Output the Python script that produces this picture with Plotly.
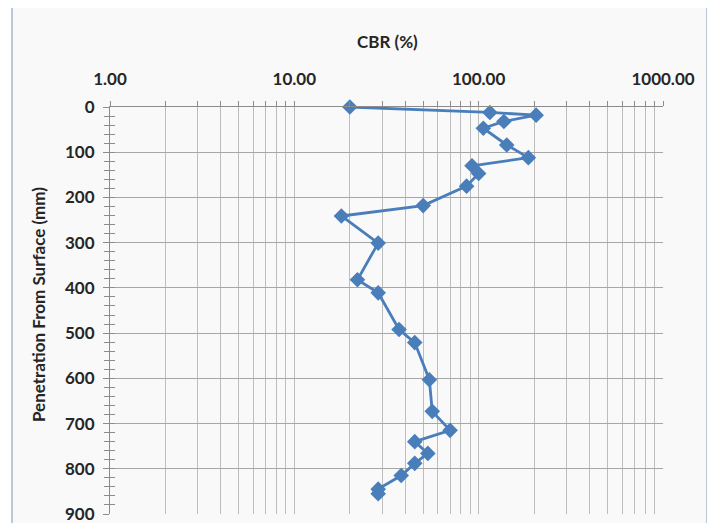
import plotly.graph_objects as go

# Data
cbr = [20, 115, 205, 137, 106, 142, 186, 92, 100, 86, 50, 18, 28.5, 22, 28.5,
       37, 45, 54, 56, 70, 45, 53, 45, 38, 28.5, 28.5]
depth = [0, 12, 18, 32, 47, 84, 112, 130, 147, 175, 218, 241, 301, 382, 411,
         492, 521, 603, 673, 715, 740, 766, 788, 815, 845, 855]

x_major = [1, 10, 100, 1000]
x_major_labels = ["1.00", "10.00", "100.00", "1000.00"]
y_ticks = [0, 100, 200, 300, 400, 500, 600, 700, 800, 900]
x_title = "CBR (%)"
y_title = "Penetration From Surface (mm)"

FONT = "Lato, 'Open Sans', sans-serif"
TXT = "#262626"
GRID = "#bdbdbd"
FS = 17

# tick positions: decades plus 2..9 inside each decade
x_tickvals = []
x_ticktext = []
for d in range(3):
    base = x_major[d]
    for m in range(1, 10):
        x_tickvals.append(base * m)
        x_ticktext.append(x_major_labels[d] if m == 1 else "")
x_tickvals.append(x_major[3])
x_ticktext.append(x_major_labels[3])

fig = go.Figure()
fig.add_trace(go.Scatter(
    x=cbr, y=depth, mode="lines+markers", cliponaxis=False,
    line=dict(color="#4A7EBB", width=2.8),
    marker=dict(symbol="diamond", size=12, color="#4A7EBB"),
    showlegend=False,
))
fig.add_trace(go.Scatter(x=[1], y=[0], yaxis="y2", mode="markers",
                         marker=dict(opacity=0), showlegend=False, hoverinfo="skip"))

# page has an 8px body margin: work in viewport pixels and shift
OFF = 8
W, H = 715, 523
PX0, PX1, PY0, PY1 = 110, 663, 107, 514   # plot area in viewport pixels
L, T = PX0 - OFF, PY0 - OFF
R = W - (PX1 - OFF)
B = H - (PY1 - OFF)
pw, ph = PX1 - PX0, PY1 - PY0

def px2paper_x(px):
    return (px - PX0) / pw

def py2paper_y(py):
    return (PY1 - py) / ph

fig.add_shape(type="rect", xref="paper", yref="paper", layer="below",
              x0=px2paper_x(12), x1=px2paper_x(707),
              y0=py2paper_y(540), y1=py2paper_y(7),
              line=dict(color="#A7B9CC", width=1.5), fillcolor="#F9F9F9")

fig.add_annotation(text="<b>" + x_title + "</b>", xref="paper", yref="paper",
                   x=px2paper_x(387), y=py2paper_y(42), showarrow=False,
                   xanchor="center", yanchor="middle",
                   font=dict(size=FS, family=FONT, color=TXT))
fig.add_annotation(text="<b>" + y_title + "</b>", xref="paper", yref="paper",
                   x=px2paper_x(38), y=py2paper_y(305), showarrow=False,
                   textangle=-90, xanchor="center", yanchor="middle",
                   font=dict(size=FS, family=FONT, color=TXT))

fig.update_layout(
    width=W, height=H,
    margin=dict(l=L, r=R, t=T, b=B),
    paper_bgcolor="white",
    plot_bgcolor="#F9F9F9",
    font=dict(family=FONT, color=TXT, size=FS),
    xaxis=dict(
        type="log", side="top", range=[0, 3], automargin=False,
        tickvals=x_tickvals, ticktext=x_ticktext,
        ticks="outside", ticklen=5, tickcolor="#8c8c8c",
        ticklabelstandoff=9,
        tickfont=dict(size=FS, family=FONT, color=TXT, weight="bold"),
        showgrid=True, gridcolor=GRID, gridwidth=1,
        showline=True, linecolor="#8c8c8c", linewidth=1,
        zeroline=False,
    ),
    yaxis=dict(
        range=[900, 0], tickvals=y_ticks, automargin=False,
        ticks="outside", ticklen=6, tickcolor="#8c8c8c",
        ticklabelstandoff=5,
        minor=dict(dtick=20, ticks="outside", ticklen=5, tickcolor="#8c8c8c", showgrid=False),
        tickfont=dict(size=FS, family=FONT, color=TXT, weight="bold"),
        showgrid=True, gridcolor="#a6a6a6", gridwidth=1,
        showline=True, linecolor="#8c8c8c", linewidth=1,
        zeroline=False,
    ),
    yaxis2=dict(
        overlaying="y", side="left", anchor="x", range=[900, 0], automargin=False,
        tickvals=y_ticks, ticks="inside", ticklen=5, tickcolor="#8c8c8c",
        minor=dict(dtick=20, ticks="inside", ticklen=5, tickcolor="#8c8c8c", showgrid=False),
        showticklabels=False, showgrid=False, zeroline=False, showline=False,
    ),
)

fig.write_html("out.html")
